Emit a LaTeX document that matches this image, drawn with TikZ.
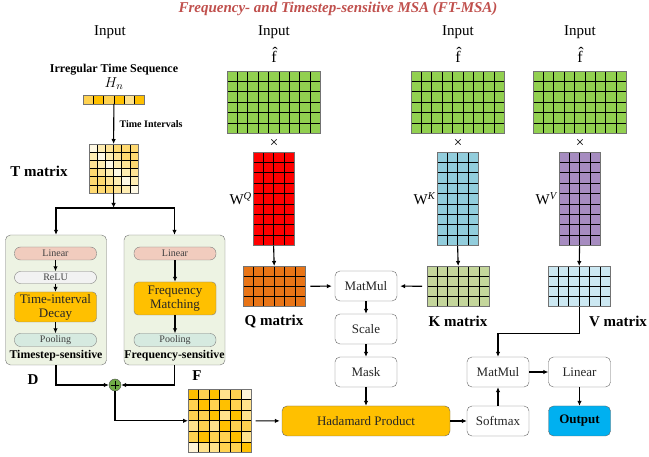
\documentclass[tikz,border=0pt]{standalone}
\usepackage{fontspec}
\setmainfont{Liberation Serif}
\usetikzlibrary{arrows.meta}
\definecolor{msaTitle}{RGB}{192, 80, 77}
\definecolor{msaGreen}{RGB}{146, 208, 80}
\definecolor{msaRed}{RGB}{255, 0, 0}
\definecolor{msaOrange}{RGB}{232, 116, 22}
\definecolor{msaCyan}{RGB}{146, 205, 220}
\definecolor{msaPurple}{RGB}{166, 140, 192}
\definecolor{msaOlive}{RGB}{196, 214, 155}
\definecolor{msaIce}{RGB}{204, 232, 242}
\definecolor{msaGold0}{RGB}{255, 192, 0}
\definecolor{msaGold1}{RGB}{255, 210, 80}
\definecolor{msaGold2}{RGB}{255, 226, 140}
\definecolor{msaGold3}{RGB}{255, 244, 215}
\definecolor{msaCream0}{RGB}{255, 249, 228}
\definecolor{msaCream1}{RGB}{255, 237, 178}
\definecolor{msaCream2}{RGB}{255, 227, 148}
\definecolor{msaCream3}{RGB}{255, 217, 112}
\definecolor{msaPanel}{RGB}{237, 243, 227}
\definecolor{msaPink}{RGB}{241, 204, 190}
\definecolor{msaMint}{RGB}{214, 234, 224}
\definecolor{msaAdd}{RGB}{112, 173, 71}
\definecolor{msaSky}{RGB}{0, 176, 240}

\tikzset{
    cell/.style={draw=black, line width=0.7pt},
    matframe/.style={draw=black!55, line width=0.8pt, inner sep=0pt, outer sep=0pt},
    op/.style={draw=black!60, rounded corners=5pt, fill=white, minimum width=62pt, minimum height=30pt,
        text=black!85, font=\fontsize{13}{15}\selectfont},
    pill/.style={draw=black!50, rounded corners=6pt, minimum width=82pt, minimum height=13pt, inner sep=0pt,
        text=black!75, font=\fontsize{10}{12}\selectfont},
    panel/.style={draw=black!55, rounded corners=5pt, fill=msaPanel, minimum width=101pt, minimum height=130pt},
    flow/.style={->, line width=1.1pt},
    big/.style={font=\fontsize{15}{17}\selectfont},
    tag/.style={font=\bfseries\fontsize{15}{17}\selectfont},
}

% grid of equal cells: name, left, top, cols, rows, cell w, cell h, colour
\newcommand{\cellmat}[8]{
    \foreach \ci in {1,...,#4}
        \foreach \ri in {1,...,#5}
            \draw[cell, fill=#8] ({#2+(\ci-1)*#6},{#3+(\ri-1)*#7}) rectangle +(#6,#7);
    \node[matframe, minimum width=#4*#6, minimum height=#5*#7, anchor=north west] (#1) at (#2,#3) {};
}

\begin{document}
\begin{tikzpicture}[x=1pt, y=-1pt, >={Latex[length=5pt,width=4.5pt]}]
    \useasboundingbox (0,0) rectangle (649,457);

    \node[text=msaTitle, font=\bfseries\itshape\fontsize{15}{17}\selectfont] (title) at (338,9)
        {Frequency- and Timestep-sensitive MSA (FT-MSA)};

    % time branch
    \node[big] (in0) at (110,32) {Input};
    \node[font=\bfseries\fontsize{12}{14}\selectfont] (its) at (114,70) {Irregular Time Sequence};
    \node[big] (hlbl) at (114,84) {$H_n$};
    \foreach \v [count=\ci] in {1,0,1,0,2,0}
        \draw[cell, fill=msaGold\v] ({83+(\ci-1)*10.3},95) rectangle +(10.3,9);
    \node[matframe, minimum width=61.8, minimum height=9, anchor=north west] (hn) at (83,95) {};

    \foreach \ci in {1,...,6}
        \foreach \ri in {1,...,6} {
            \pgfmathtruncatemacro\d{min(abs(\ci-\ri),3)}
            \draw[cell, fill=msaCream\d] ({89+(\ci-1)*8.2},{144+(\ri-1)*8.2}) rectangle +(8.2,8.2);
        }
    \node[matframe, minimum width=49.2, minimum height=49.2, anchor=north west] (tm) at (89,144) {};
    \node[tag] (tlbl) at (39,171) {T matrix};
    \draw[flow] (hn.south) -- (tm.north)
        node[midway, right, xshift=2pt, font=\bfseries\fontsize{10}{12}\selectfont] {Time Intervals};

    \node[panel] (tsp) at (56,300) {};
    \node[panel] (fsp) at (174.5,300) {};
    \coordinate (split) at (113.6,208);
    \draw[flow] (tm.south) -- (split);
    \draw[flow] (split) -| (tsp.north);
    \draw[flow] (split) -| (fsp.north);

    \node[pill, fill=msaPink] (tlin) at (55.5,253.5) {Linear};
    \node[pill, fill=black!5, minimum height=12pt] (relu) at (55.5,277.5) {ReLU};
    \node[pill, fill=msaGold0, rounded corners=4pt, minimum height=30pt, text=black!85,
        font=\fontsize{13}{14}\selectfont, align=center] (decay) at (55.5,307) {Time-interval\\Decay};
    \node[pill, fill=msaMint] (tpool) at (55.5,340) {Pooling};
    \node[font=\bfseries\fontsize{11.8}{13}\selectfont] (tname) at (56,356) {Timestep-sensitive};
    \draw[flow] (tlin) -- (relu);
    \draw[flow] (relu) -- (decay);
    \draw[flow] (decay) -- (tpool);

    \node[pill, fill=msaPink] (flin) at (175,253.5) {Linear};
    \node[pill, fill=msaGold0, rounded corners=4pt, minimum height=33pt, text=black!85,
        font=\fontsize{13}{14}\selectfont, align=center] (fmatch) at (175,298.5) {Frequency\\Matching};
    \node[pill, fill=msaMint] (fpool) at (175,340) {Pooling};
    \node[font=\bfseries\fontsize{11.8}{13}\selectfont] (fname) at (174.5,356) {Frequency-sensitive};
    \draw[flow] (flin) -- (fmatch);
    \draw[flow] (fmatch) -- (fpool);

    \node[tag] (dlbl) at (33,380) {D};
    \node[tag] (flbl) at (197,376) {F};
    \node[circle, draw=black!70, fill=msaAdd, minimum size=12pt, inner sep=0pt] (add) at (115,385) {};
    \draw[line width=0.8pt] ([yshift=4pt]add.center) -- ([yshift=-4pt]add.center)
        ([xshift=-4pt]add.center) -- ([xshift=4pt]add.center);
    \draw[flow] (tsp.south) |- (add.west);
    \draw[flow] (fsp.south) |- (add.east);

    \foreach \row [count=\ri] in {{0,1,0,2,1,3},{1,0,1,0,1,2},{1,1,0,2,0,2},{2,1,2,0,1,1},{1,0,1,1,0,2},{3,2,2,1,1,0}}
        \foreach \v [count=\ci] in \row
            \draw[cell, fill=msaGold\v] ({188+(\ci-1)*10.6},{389+(\ri-1)*10.6}) rectangle +(10.6,10.6);
    \node[matframe, minimum width=63.6, minimum height=63.6, anchor=north west] (fm) at (188,389) {};
    \draw[flow] (add.south) |- (fm.west);

    % query, key, value
    \node[big] (in1) at (274,32) {Input};
    \node[big] (in2) at (458,32) {Input};
    \node[big] (in3) at (580,32) {Input};
    \node[font=\fontsize{16}{18}\selectfont] (fq0) at (274,55) {\^{f}};
    \node[font=\fontsize{16}{18}\selectfont] (fk0) at (458,55) {\^{f}};
    \node[font=\fontsize{16}{18}\selectfont] (fv0) at (580,55) {\^{f}};

    \cellmat{fq}{227}{71}{9}{6}{10.4}{10.4}{msaGreen}
    \cellmat{fk}{411}{71}{9}{6}{10.4}{10.4}{msaGreen}
    \cellmat{fv}{533}{71}{9}{6}{10.4}{10.4}{msaGreen}
    \node[big] (xq) at (274,143) {×};
    \node[big] (xk) at (458,143) {×};
    \node[big] (xv) at (580,143) {×};

    \cellmat{wq}{253}{152}{4}{9}{10.3}{10.4}{msaRed}
    \cellmat{wk}{437}{152}{4}{9}{10.3}{10.4}{msaCyan}
    \cellmat{wv}{559}{152}{4}{9}{10.3}{10.4}{msaPurple}
    \node[big, anchor=east, inner sep=1pt] (wqlbl) at (wq.west) {W\textsuperscript{\textit{Q}}};
    \node[big, anchor=east, inner sep=1pt] (wklbl) at (wk.west) {W\textsuperscript{\textit{K}}};
    \node[big, anchor=east, inner sep=1pt] (wvlbl) at (wv.west) {W\textsuperscript{\textit{V}}};

    \cellmat{qm}{243}{266}{6}{4}{10.4}{10.2}{msaOrange}
    \cellmat{km}{427}{266}{6}{4}{10.4}{10.2}{msaOlive}
    \cellmat{vm}{548}{266}{6}{4}{10.4}{10.2}{msaIce}
    \draw[flow] (wq.south) -- (qm.north);
    \draw[flow] (wk.south) -- (km.north);
    \draw[flow] (wv.south) -- (vm.north);
    \node[tag] (qlbl) at (274,322) {Q matrix};
    \node[tag] (klbl) at (458,321) {K matrix};
    \node[tag, inner sep=1pt] (vlbl) at (618,321) {V matrix};

    % attention
    \node[op] (mm1) at (366,286) {MatMul};
    \node[op] (scale) at (366,329) {Scale};
    \node[op] (mask) at (366,372) {Mask};
    \node[op, fill=msaGold0, minimum width=168pt] (hp) at (366,421) {Hadamard Product};
    \node[op] (smax) at (498,421) {Softmax};
    \node[op] (mm2) at (498,372) {MatMul};
    \node[op] (lin) at (579.5,372) {Linear};
    \node[op, fill=msaSky, text=black, font=\bfseries\fontsize{13}{15}\selectfont] (out) at (579.5,421) {Output};

    \draw[flow, shorten <=5pt, shorten >=3pt] (qm) -- (mm1);
    \draw[flow, shorten <=5pt, shorten >=3pt] (km) -- (mm1);
    \draw[flow] (mm1) -- (scale);
    \draw[flow] (scale) -- (mask);
    \draw[flow] (mask) -- (hp);
    \draw[flow, shorten <=4pt, shorten >=2pt] (fm) -- (hp);
    \draw[flow] (hp) -- (smax);
    \draw[flow] (smax) -- (mm2);
    \draw[flow] (mm2) -- (lin);
    \draw[flow] (lin) -- (out);
    \draw[flow] (vm.south) -- ++(0,27) -| (mm2.north);
\end{tikzpicture}
\end{document}
